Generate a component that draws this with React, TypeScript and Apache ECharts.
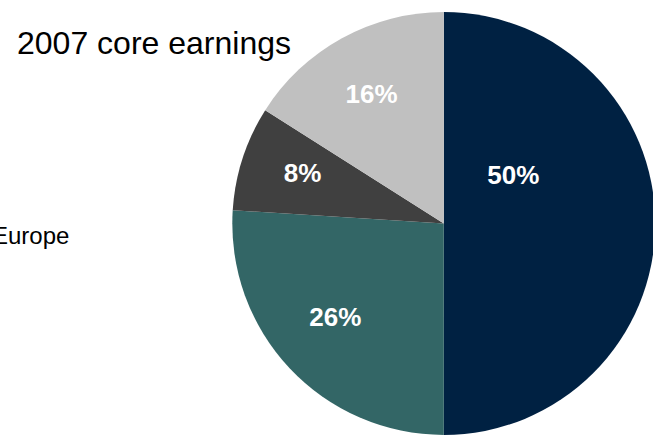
import React, { useEffect, useRef } from "react";
import * as echarts from "echarts";

const categories = ["Segment A", "Segment B", "Segment C", "Segment D"];
const values = [50, 26, 8, 16];
const colors = ["#002142", "#336666", "#404040", "#C0C0C0"];
const titleText = "2007 core earnings";
const legendText = "Europe";

// label placement (layout only): radius fraction and angle shift (degrees)
const labelRadiusFrac = [0.4, 0.677, 0.709, 0.7];
const labelAngleShift = [-34.7, 2.5, 1.6, -0.4];

const CX = 443.8;
const CY = 223.5;
const R = 211.5;
const FONT = '"Liberation Sans", Arial, sans-serif';

export default function App() {
  const ref = useRef<HTMLDivElement>(null);
  useEffect(() => {
    if (!ref.current) return;
    const chart = echarts.init(ref.current, undefined, { renderer: "svg" });
    const total = values.reduce((a, b) => a + b, 0);
    const cum: number[] = [];
    let acc = 0;
    values.forEach((v) => {
      cum.push(acc);
      acc += v;
    });
    chart.setOption({
      animation: false,
      backgroundColor: "#ffffff",
      graphic: [
        {
          type: "text",
          x: 17,
          y: 42.9,
          style: {
            text: titleText,
            fontSize: 32,
            fontFamily: FONT,
            fill: "#000000",
            verticalAlign: "middle",
            align: "left",
          },
        },
        {
          type: "text",
          x: -8,
          y: 235.7,
          style: {
            text: legendText,
            fontSize: 24,
            fontFamily: FONT,
            fill: "#000000",
            verticalAlign: "middle",
            align: "left",
          },
        },
      ],
      series: [
        {
          type: "pie",
          center: [CX, CY],
          radius: [0, R],
          startAngle: 90,
          clockwise: true,
          avoidLabelOverlap: false,
          labelLine: { show: false },
          label: {
            show: true,
            position: "inside",
            color: "#ffffff",
            fontSize: 26,
            fontWeight: "bold",
            fontFamily: FONT,
            formatter: (p: any) => `${p.value}%`,
          },
          labelLayout: (params: any) => {
            const i = params.dataIndex;
            const mid = ((cum[i] + values[i] / 2) / total) * 360 + labelAngleShift[i];
            const a = (mid * Math.PI) / 180;
            const r = labelRadiusFrac[i] * R;
            return {
              x: CX + r * Math.sin(a),
              y: CY - r * Math.cos(a),
              align: "center",
              verticalAlign: "middle",
            };
          },
          emphasis: { disabled: true },
          data: categories.map((name, i) => ({
            name,
            value: values[i],
            itemStyle: { color: colors[i] },
          })),
        },
      ],
    });
    return () => chart.dispose();
  }, []);
  return (
    <div
      ref={ref}
      style={{ position: "fixed", left: 0, top: 0, width: 653, height: 441 }}
    />
  );
}
